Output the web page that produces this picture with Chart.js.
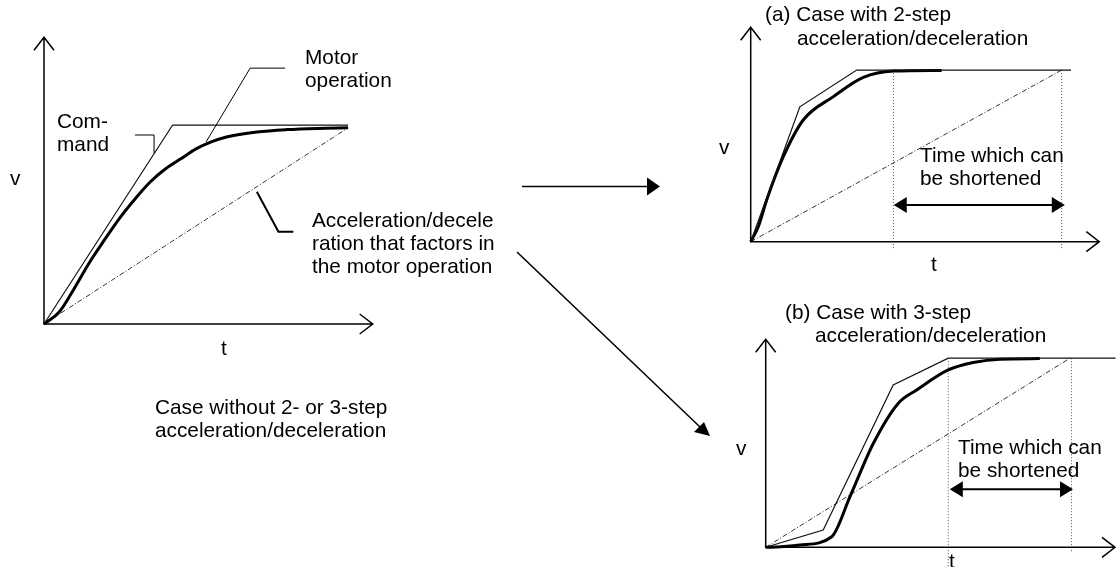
<!DOCTYPE html>
<html>
<head>
<meta charset="utf-8">
<script src="https://cdn.jsdelivr.net/npm/chart.js@4/dist/chart.umd.min.js"></script>
<style>
  body { margin:0; background:#fff; width:1117px; height:567px; overflow:hidden; position:relative;
         font-family:"Liberation Sans", Arial, sans-serif; }
  canvas, svg { position:absolute; left:0; top:0; }
  .lbl { position:absolute; font-size:20.8px; line-height:23px; color:#000; white-space:nowrap; }
  .mid { transform:translateX(-50%); }
</style>
</head>
<body>
<canvas id="plot0" width="1117" height="567"></canvas>
<canvas id="plotA" width="1117" height="567"></canvas>
<canvas id="plotB" width="1117" height="567"></canvas>
<svg width="1117" height="567">
  <line x1="522" y1="186.5" x2="648" y2="186.5" stroke="#000" stroke-width="1.5"/>
  <polygon points="660,186.5 647,177.5 647,195.5" fill="#000"/>
  <line x1="517" y1="252" x2="700" y2="427" stroke="#000" stroke-width="1.5"/>
  <polygon points="710,436 694,432 704,422" fill="#000"/>
</svg>

<div class="lbl" style="left:10px;top:166px">v</div>
<div class="lbl mid" style="left:224px;top:336px">t</div>
<div class="lbl" style="left:57px;top:109px">Com-<br>mand</div>
<div class="lbl" style="left:305px;top:45px">Motor<br>operation</div>
<div class="lbl" style="left:312px;top:208px">Acceleration/decele<br>ration that factors in<br>the motor operation</div>
<div class="lbl" style="left:155px;top:395px">Case without 2- or 3-step<br>acceleration/deceleration</div>

<div class="lbl" style="left:765px;top:2px">(a) Case with 2-step</div>
<div class="lbl" style="left:797px;top:26px">acceleration/deceleration</div>
<div class="lbl" style="left:719px;top:135px">v</div>
<div class="lbl mid" style="left:934px;top:252px">t</div>
<div class="lbl" style="left:920px;top:143px">Time which can<br>be shortened</div>

<div class="lbl" style="left:785px;top:300px">(b) Case with 3-step</div>
<div class="lbl" style="left:815px;top:323px">acceleration/deceleration</div>
<div class="lbl" style="left:736px;top:436px">v</div>
<div class="lbl mid" style="left:952px;top:549px">t</div>
<div class="lbl" style="left:958px;top:435px">Time which can<br>be shortened</div>

<script>
const W = 1117, H = 567;

// ---- plot without multi-step (t, v) ----
const cmdT0 = [0, 4.23, 10];
const cmdV0 = [0, 1, 1];
const motT0 = [0, 0.5, 1.0, 1.5, 2.0, 2.5, 3.0, 3.5, 4.0, 4.5, 5.0, 5.5, 6.0, 7.0, 8.0, 9.0, 10];
const motV0 = [0, 0.06, 0.18, 0.31, 0.425, 0.535, 0.63, 0.715, 0.78, 0.83, 0.88, 0.915, 0.94, 0.965, 0.977, 0.983, 0.986];
const refT0 = [0, 10];
const refV0 = [0, 0.986];

// ---- (a) 2-step ----
const cmdTa = [0, 1.58, 3.41, 10.3];
const cmdVa = [0, 0.786, 1, 1];
const motTa = [0, 0.25, 0.514, 1.048, 1.69, 2.66, 3.62, 4.59, 6.14];
const motVa = [0, 0.09, 0.243, 0.495, 0.709, 0.845, 0.957, 0.994, 0.998];
const refTa = [0, 10];
const refVa = [0, 1];
const shortA = [4.6, 10.1];      // time which can be shortened
const shortVa = 0.214;

// ---- (b) 3-step ----
const cmdTb = [0, 1.89, 4.19, 6.0, 11.5];
const cmdVb = [0, 0.0915, 0.859, 1, 1];
const motTb = [0, 0.5, 1.13, 2.17, 2.77, 3.54, 4.36, 4.96, 6.0, 6.82, 7.70, 9.01];
const motVb = [0, 0.003, 0.012, 0.056, 0.268, 0.550, 0.762, 0.832, 0.938, 0.977, 0.995, 0.998];
const refTb = [0, 10];
const refVb = [0, 1];
const shortB = [6.05, 10.1];
const shortVb = 0.307;

function pts(t, v) { return t.map((x, i) => ({ x: x, y: v[i] })); }

function cmdSet(t, v) {
  return { data: pts(t, v), borderColor: '#111', borderWidth: 1.2, tension: 0, clip: false };
}
function motSet(t, v) {
  return { data: pts(t, v), borderColor: '#000', borderWidth: 3, cubicInterpolationMode: 'monotone', clip: false };
}
function refSet(t, v) {
  return { data: pts(t, v), borderColor: '#333', borderWidth: 1, borderDash: [5, 2, 1, 2], tension: 0, clip: false };
}
function vline(t, v0, v1) {
  return { data: [{ x: t, y: v0 }, { x: t, y: v1 }], borderColor: '#555', borderWidth: 1, borderDash: [1, 2], clip: false };
}

function drawAxes(ctx, a) {
  ctx.save();
  ctx.strokeStyle = '#000';
  ctx.lineWidth = 1.5;
  ctx.beginPath();
  ctx.moveTo(a.left, a.top); ctx.lineTo(a.left, a.bottom); ctx.lineTo(a.right, a.bottom);
  ctx.moveTo(a.left - 10, a.top + 13); ctx.lineTo(a.left, a.top); ctx.lineTo(a.left + 10, a.top + 13);
  ctx.moveTo(a.right - 13, a.bottom - 10); ctx.lineTo(a.right, a.bottom); ctx.lineTo(a.right - 13, a.bottom + 10);
  ctx.stroke();
  ctx.restore();
}

function drawDoubleArrow(chart, t0, t1, v) {
  const ctx = chart.ctx, xs = chart.scales.x, ys = chart.scales.y;
  const x0 = xs.getPixelForValue(t0), x1 = xs.getPixelForValue(t1), y = ys.getPixelForValue(v);
  ctx.save();
  ctx.strokeStyle = '#000'; ctx.fillStyle = '#000'; ctx.lineWidth = 2;
  ctx.beginPath(); ctx.moveTo(x0 + 10, y); ctx.lineTo(x1 - 10, y); ctx.stroke();
  ctx.beginPath(); ctx.moveTo(x0, y); ctx.lineTo(x0 + 13, y - 8); ctx.lineTo(x0 + 13, y + 8); ctx.closePath(); ctx.fill();
  ctx.beginPath(); ctx.moveTo(x1, y); ctx.lineTo(x1 - 13, y - 8); ctx.lineTo(x1 - 13, y + 8); ctx.closePath(); ctx.fill();
  ctx.restore();
}

function drawLeader(chart, tv, width) {
  const ctx = chart.ctx, xs = chart.scales.x, ys = chart.scales.y;
  ctx.save();
  ctx.strokeStyle = '#000'; ctx.lineWidth = width;
  ctx.beginPath();
  tv.forEach((p, i) => {
    const px = xs.getPixelForValue(p[0]), py = ys.getPixelForValue(p[1]);
    if (i === 0) ctx.moveTo(px, py); else ctx.lineTo(px, py);
  });
  ctx.stroke();
  ctx.restore();
}

function plot(id, frame, xMax, yMax, datasets, extra) {
  return new Chart(document.getElementById(id), {
    type: 'line',
    data: { datasets: datasets },
    options: {
      responsive: false,
      animation: false,
      devicePixelRatio: 1,
      events: [],
      layout: { padding: { left: frame.ox, top: frame.ytip, right: W - frame.xtip, bottom: H - frame.oy } },
      elements: { point: { radius: 0 } },
      plugins: { legend: { display: false }, tooltip: { enabled: false } },
      scales: {
        x: { type: 'linear', min: 0, max: xMax, display: false },
        y: { type: 'linear', min: 0, max: yMax, display: false }
      }
    },
    plugins: [{
      id: 'diagram',
      afterDatasetsDraw(chart) {
        drawAxes(chart.ctx, chart.chartArea);
        if (extra) extra(chart);
      }
    }]
  });
}

// left plot: 30.4 px per t unit, 199 px per v unit
plot('plot0', { ox: 44, oy: 324, xtip: 372.7, ytip: 37.3 }, 10.81, 1.441,
  [cmdSet(cmdT0, cmdV0), motSet(motT0, motV0), refSet(refT0, refV0)],
  function (chart) {
    drawLeader(chart, [[2.99, 0.95], [3.62, 0.95], [3.62, 0.859]], 1);
    drawLeader(chart, [[7.93, 1.286], [6.78, 1.286], [5.33, 0.915]], 1);
    drawLeader(chart, [[7.0, 0.665], [7.71, 0.464], [8.2, 0.464]], 2);
  });

plot('plotA', { ox: 750.7, oy: 241.7, xtip: 1099.3, ytip: 27.3 }, 11.21, 1.249,
  [cmdSet(cmdTa, cmdVa), motSet(motTa, motVa), refSet(refTa, refVa),
   vline(shortA[0] - 0.01, 1, -0.037), vline(10, 1, -0.037)],
  function (chart) { drawDoubleArrow(chart, shortA[0], shortA[1], shortVa); });

plot('plotB', { ox: 765.7, oy: 547.3, xtip: 1115, ytip: 339.3 }, 11.48, 1.10,
  [cmdSet(cmdTb, cmdVb), motSet(motTb, motVb), refSet(refTb, refVb),
   vline(6.0, 1, -0.105), vline(10.05, 1, -0.03)],
  function (chart) { drawDoubleArrow(chart, shortB[0], shortB[1], shortVb); });
</script>
</body>
</html>
